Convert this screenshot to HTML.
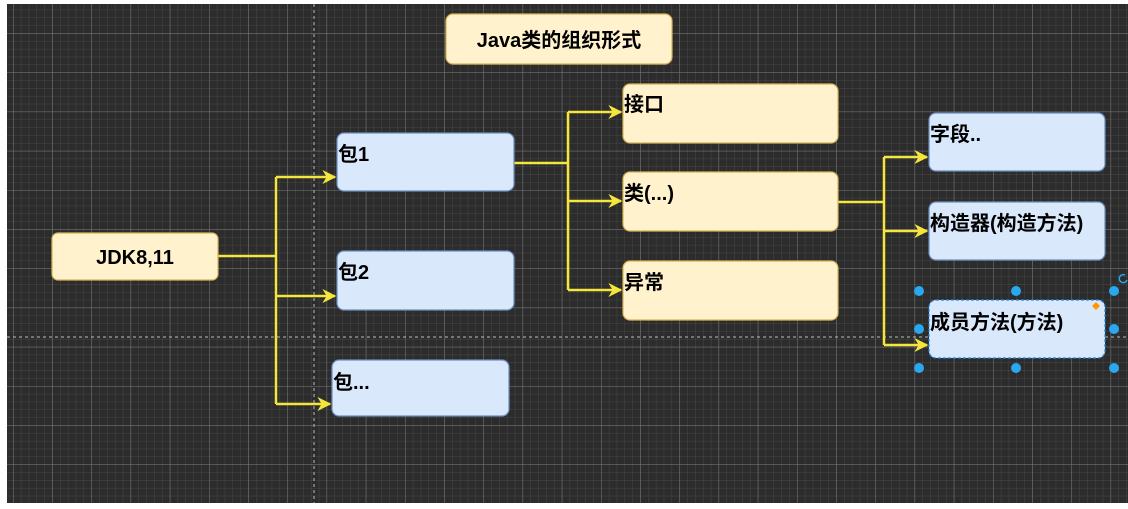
<!DOCTYPE html>
<html><head><meta charset="utf-8"><style>
html,body{margin:0;padding:0;background:#fff;}
svg{display:block}
text{font-family:"Liberation Sans","Noto Sans CJK SC",sans-serif;font-weight:bold;font-size:20px;fill:#000}
</style></head><body>
<svg width="1128" height="509" viewBox="0 0 1128 509" xmlns="http://www.w3.org/2000/svg">
<defs>
<pattern id="minor" x="13" y="-6" width="7.84" height="7.84" patternUnits="userSpaceOnUse">
<path d="M0 0H7.84M0 0V7.84" stroke="#474747" stroke-width="1" fill="none"/>
</pattern>
<pattern id="major" x="13" y="-6" width="39.2" height="39.2" patternUnits="userSpaceOnUse">
<path d="M0 0H39.2M0 0V39.2" stroke="#7a7a7a" stroke-width="1" fill="none"/>
</pattern>
<marker id="ar" viewBox="0 0 10 10" refX="9" refY="5" markerWidth="14" markerHeight="14" markerUnits="userSpaceOnUse" orient="auto">
<path d="M0 0L10 5L0 10L3 5Z" fill="#f5e63c"/>
</marker>
</defs>
<rect x="7" y="4" width="1121" height="499" fill="#2c2c2c"/>
<rect x="7" y="4" width="1121" height="499" fill="url(#minor)"/>
<rect x="7" y="4" width="1121" height="499" fill="url(#major)"/>
<line x1="314" y1="4" x2="314" y2="503" stroke="#bbb" stroke-dasharray="3,3"/>
<line x1="7" y1="337" x2="1128" y2="337" stroke="#bbb" stroke-dasharray="3,3"/>

<g stroke="#f5e63c" stroke-width="2.5" fill="none">
<path d="M218 256H276"/>
<path d="M276 177V404"/>
<path d="M276 177H335" marker-end="url(#ar)"/>
<path d="M276 296H335" marker-end="url(#ar)"/>
<path d="M276 404H330" marker-end="url(#ar)"/>
<path d="M514 163H568"/>
<path d="M568 112V290"/>
<path d="M568 112H621" marker-end="url(#ar)"/>
<path d="M568 201H621" marker-end="url(#ar)"/>
<path d="M568 290H621" marker-end="url(#ar)"/>
<path d="M838 202H884"/>
<path d="M884 157V345"/>
<path d="M884 157H927" marker-end="url(#ar)"/>
<path d="M884 231H927" marker-end="url(#ar)"/>
<path d="M884 345H927" marker-end="url(#ar)"/>
</g>

<g stroke-width="1.2">
<rect x="446" y="14" width="226" height="50" rx="7" fill="#fff2cc" stroke="#d6b656"/>
<rect x="52" y="233" width="166" height="47" rx="6" fill="#fff2cc" stroke="#d6b656"/>
<rect x="337" y="133" width="177" height="58" rx="7" fill="#dae8fc" stroke="#6c8ebf"/>
<rect x="337" y="251" width="177" height="59" rx="7" fill="#dae8fc" stroke="#6c8ebf"/>
<rect x="332" y="360" width="177" height="56" rx="7" fill="#dae8fc" stroke="#6c8ebf"/>
<rect x="623" y="84" width="215" height="59" rx="7" fill="#fff2cc" stroke="#d6b656"/>
<rect x="623" y="172" width="215" height="59" rx="7" fill="#fff2cc" stroke="#d6b656"/>
<rect x="623" y="261" width="215" height="59" rx="7" fill="#fff2cc" stroke="#d6b656"/>
<rect x="929" y="113" width="176" height="58" rx="7" fill="#dae8fc" stroke="#6c8ebf"/>
<rect x="929" y="202" width="176" height="58" rx="7" fill="#dae8fc" stroke="#6c8ebf"/>
<rect x="929" y="300" width="176" height="58" rx="7" fill="#dae8fc" stroke="#1e88e5" stroke-dasharray="3,2"/>
</g>

<text x="559" y="47" text-anchor="middle">Java类的组织形式</text>
<text x="135" y="264" text-anchor="middle">JDK8,11</text>
<text x="338" y="161">包1</text>
<text x="338" y="279">包2</text>
<text x="333" y="389">包...</text>
<text x="624" y="111">接口</text>
<text x="624" y="200">类(...)</text>
<text x="624" y="289">异常</text>
<text x="930" y="141">字段..</text>
<text x="930" y="230">构造器(构造方法)</text>
<text x="930" y="329">成员方法(方法)</text>

<g fill="#29a8f0">
<circle cx="919" cy="291" r="5"/><circle cx="1016" cy="291" r="5"/><circle cx="1114" cy="291" r="5"/>
<circle cx="919" cy="329" r="5"/><circle cx="1114" cy="329" r="5"/>
<circle cx="919" cy="368" r="5"/><circle cx="1016" cy="368" r="5"/><circle cx="1114" cy="368" r="5"/>
</g>
<path d="M1096 302l4 4-4 4-4-4z" fill="#ff9800"/>
<path d="M1125 275a4 4 0 1 0 2 5" stroke="#29a8f0" stroke-width="1.5" fill="none"/>
</svg>
</body></html>
